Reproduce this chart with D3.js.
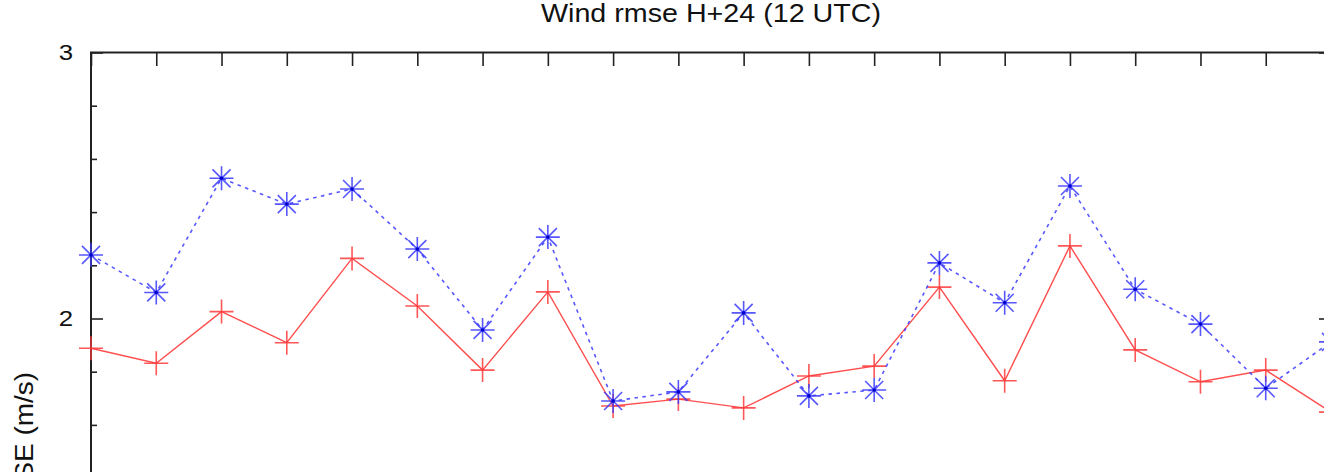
<!DOCTYPE html>
<html>
<head>
<meta charset="utf-8">
<script src="https://cdn.jsdelivr.net/npm/d3@7"></script>
<style>
  html, body { margin: 0; padding: 0; background: #fff; }
  svg { display: block; }
  text { font-family: "Liberation Sans", Arial, Helvetica, sans-serif; fill: #111; }
</style>
</head>
<body>
<svg id="chart" width="1324" height="472"></svg>
<script>
// Forecast runs along the x axis (one point per run)
const runs = [0, 1, 2, 3, 4, 5, 6, 7, 8, 9, 10, 11, 12, 13, 14, 15, 16, 17, 18, 19];

// Wind RMSE (m/s) at H+24, 12 UTC
const rmseSolid = [1.888, 1.832, 2.026, 1.909, 2.226, 2.047, 1.806, 2.100, 1.671, 1.697,
                   1.664, 1.784, 1.821, 2.118, 1.766, 2.273, 1.882, 1.762, 1.806, 1.648];
const rmseDashed = [2.239, 2.098, 2.527, 2.430, 2.487, 2.261, 1.957, 2.306, 1.690, 1.724,
                    2.021, 1.709, 1.731, 2.209, 2.059, 2.498, 2.110, 1.979, 1.738, 1.912];

const yMajorTicks = [0, 1, 2, 3];
const yMinorTicks = [0.2, 0.4, 0.6, 0.8, 1.2, 1.4, 1.6, 1.8, 2.2, 2.4, 2.6, 2.8];
const yTickLabels = [2, 3];
const titleText = "Wind rmse H+24 (12 UTC)";
const yLabelText = "RMSE (m/s)";

const svg = d3.select("#chart");

const plotLeft = 91, plotRight = 1331, plotTop = 52.5, plotBottom = 850.5;
const x = d3.scaleLinear().domain([0, 19]).range([plotLeft, plotRight]);
const y = d3.scaleLinear().domain([0, 3]).range([plotBottom, plotTop]);

// Title
svg.append("text")
  .attr("x", (plotLeft + plotRight) / 2)
  .attr("y", 21.7)
  .attr("text-anchor", "middle")
  .attr("font-size", 25.5)
  .attr("textLength", 340)
  .attr("lengthAdjust", "spacingAndGlyphs")
  .text(titleText);

// Y axis label (rotated, runs down past the bottom edge)
svg.append("text")
  .attr("transform", "translate(33,448) rotate(-90)")
  .attr("text-anchor", "middle")
  .attr("font-size", 25)
  .attr("textLength", 152)
  .attr("lengthAdjust", "spacingAndGlyphs")
  .text(yLabelText);

// Tick marks on all four sides (pointing inward)
const axisColor = "#222";
function styleAxis(g) {
  g.select(".domain").remove();
  g.selectAll(".tick line").attr("stroke", axisColor).attr("stroke-width", 1.6);
  g.selectAll(".tick text").remove();
}
svg.append("g").attr("transform", `translate(${plotLeft},0)`)
  .call(d3.axisLeft(y).tickValues(yMajorTicks).tickSize(-12)).call(styleAxis);
svg.append("g").attr("transform", `translate(${plotLeft},0)`)
  .call(d3.axisLeft(y).tickValues(yMinorTicks).tickSize(-6)).call(styleAxis);
svg.append("g").attr("transform", `translate(${plotRight},0)`)
  .call(d3.axisRight(y).tickValues(yMajorTicks).tickSize(-12)).call(styleAxis);
svg.append("g").attr("transform", `translate(${plotRight},0)`)
  .call(d3.axisRight(y).tickValues(yMinorTicks).tickSize(-6)).call(styleAxis);
svg.append("g").attr("transform", `translate(0,${plotTop})`)
  .call(d3.axisTop(x).tickValues(runs).tickSize(-13.5)).call(styleAxis);

// Y tick labels
svg.append("g").selectAll("text")
  .data(yTickLabels)
  .join("text")
  .attr("transform", d => `translate(73,${y(d) + 7}) scale(1.2,1)`)
  .attr("text-anchor", "end")
  .attr("font-size", 21.5)
  .attr("fill", "#222")
  .text(d => d);

// Plot border
svg.append("rect")
  .attr("x", plotLeft).attr("y", plotTop)
  .attr("width", plotRight - plotLeft).attr("height", plotBottom - plotTop)
  .attr("fill", "none")
  .attr("stroke", axisColor)
  .attr("stroke-width", 2);

const solidColor = "#ff3a3a";
const dashedColor = "#3a3aff";

const line = d3.line().x((d, i) => x(runs[i])).y(d => y(d));

// Solid red series
svg.append("path")
  .datum(rmseSolid)
  .attr("d", line)
  .attr("fill", "none")
  .attr("stroke", solidColor)
  .attr("stroke-width", 1.4)
  .attr("opacity", 0.9);

svg.append("g").selectAll("path")
  .data(rmseSolid)
  .join("path")
  .attr("d", (d, i) => {
    const cx = x(runs[i]), cy = y(d), r = 12;
    return `M${cx - r},${cy}H${cx + r}M${cx},${cy - r}V${cy + r}`;
  })
  .attr("stroke", solidColor)
  .attr("stroke-width", 1.6)
  .attr("opacity", 0.85);

// Dashed blue series
svg.append("path")
  .datum(rmseDashed)
  .attr("d", line)
  .attr("fill", "none")
  .attr("stroke", dashedColor)
  .attr("stroke-width", 1.6)
  .attr("stroke-dasharray", "3.5,4.5")
  .attr("opacity", 0.85);

svg.append("g").selectAll("path")
  .data(rmseDashed)
  .join("path")
  .attr("d", (d, i) => {
    const cx = x(runs[i]), cy = y(d), r = 12, q = 9;
    return `M${cx - r},${cy}H${cx + r}M${cx},${cy - r}V${cy + r}` +
           `M${cx - q},${cy - q}L${cx + q},${cy + q}M${cx - q},${cy + q}L${cx + q},${cy - q}`;
  })
  .attr("stroke", dashedColor)
  .attr("stroke-width", 1.6)
  .attr("opacity", 0.85);

svg.append("g").selectAll("circle")
  .data(rmseDashed)
  .join("circle")
  .attr("cx", (d, i) => x(runs[i]))
  .attr("cy", d => y(d))
  .attr("r", 1.8)
  .attr("fill", "#0000cc");
</script>
</body>
</html>
